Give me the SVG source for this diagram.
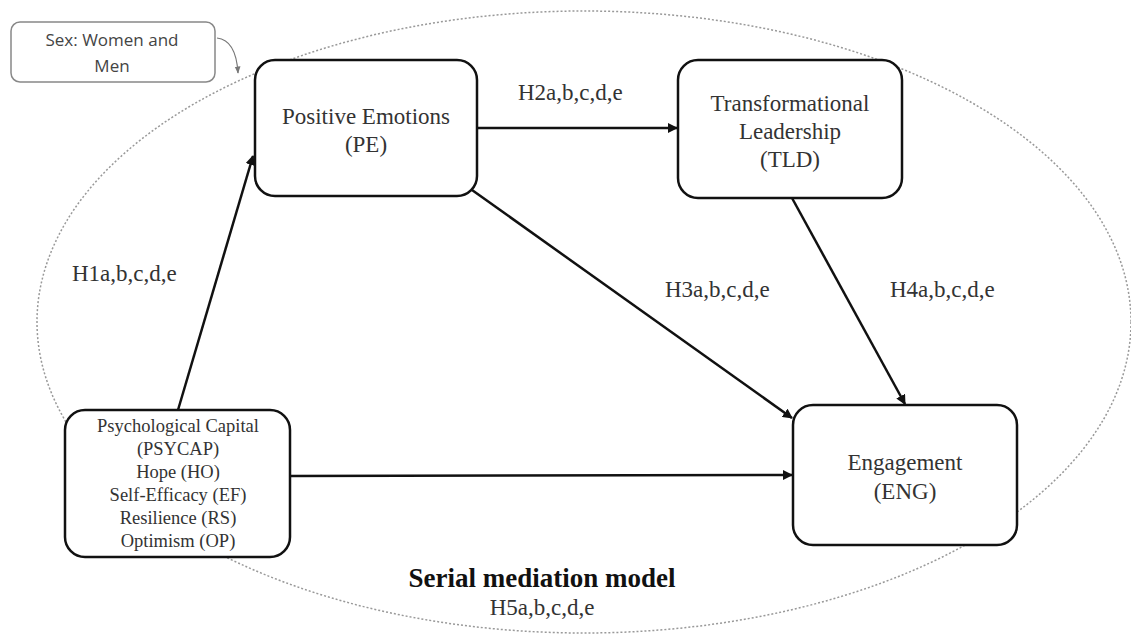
<svg xmlns="http://www.w3.org/2000/svg" width="1131" height="639" viewBox="0 0 1131 639">
<defs>
<style>
.node{fill:#fff;stroke:#111;stroke-width:2.5}
.t{font-family:"Liberation Serif","Times New Roman",serif;fill:#333;text-anchor:middle}
.lbl{font-family:"Liberation Serif","Times New Roman",serif;fill:#333;font-size:23px}
.edge{stroke:#111;stroke-width:2.5;fill:none;marker-end:url(#ah)}
</style>
<marker id="ah" viewBox="0 0 10 10" refX="9" refY="5" markerWidth="4" markerHeight="4" orient="auto" markerUnits="strokeWidth">
<path d="M0,0 L10,5 L0,10 z" fill="#111"/>
</marker>
<marker id="ahs" viewBox="0 0 10 10" refX="9" refY="5" markerWidth="6" markerHeight="6" orient="auto" markerUnits="strokeWidth">
<path d="M0,1 L10,5 L0,9 z" fill="#777"/>
</marker>
</defs>
<rect width="1131" height="639" fill="#fff"/>
<ellipse id="boundary" cx="584" cy="322" rx="547" ry="311" fill="none" stroke="#999" stroke-width="1.5" stroke-dasharray="2 2"/>

<g id="sex">
<rect x="11" y="22" width="204" height="60" rx="9" fill="#fff" stroke="#888" stroke-width="1.5"/>
<text x="112" y="46" font-family="'Open Sans',sans-serif" font-size="17" fill="#444" text-anchor="middle">Sex: Women and</text>
<text x="112" y="72" font-family="'Open Sans',sans-serif" font-size="17" fill="#444" text-anchor="middle">Men</text>
</g>

<g id="connectors">
<path d="M217,38 Q236,40 238,73" fill="none" stroke="#777" stroke-width="1.2" marker-end="url(#ahs)"/>
<line class="edge" x1="178" y1="410" x2="253" y2="156"/>
<line class="edge" x1="477" y1="128" x2="677" y2="128"/>
<line class="edge" x1="472" y1="190" x2="792" y2="418"/>
<line class="edge" x1="792" y1="198" x2="905" y2="404"/>
<line class="edge" x1="290" y1="476" x2="792" y2="475"/>
</g>

<g id="pe">
<rect class="node" x="255" y="60" width="222" height="136" rx="20"/>
<text class="t" x="366" y="124" font-size="23">Positive Emotions</text>
<text class="t" x="366" y="152" font-size="23">(PE)</text>
</g>

<g id="tld">
<rect class="node" x="678" y="60" width="224" height="138" rx="20"/>
<text class="t" x="790" y="111" font-size="23">Transformational</text>
<text class="t" x="790" y="139" font-size="23">Leadership</text>
<text class="t" x="790" y="167" font-size="23">(TLD)</text>
</g>

<g id="psycap">
<rect class="node" x="65" y="410" width="225" height="147" rx="20"/>
<text class="t" x="178" y="432" font-size="18.5">Psychological  Capital</text>
<text class="t" x="178" y="455" font-size="18.5">(PSYCAP)</text>
<text class="t" x="178" y="478" font-size="18.5">Hope (HO)</text>
<text class="t" x="178" y="501" font-size="18.5">Self-Efficacy  (EF)</text>
<text class="t" x="178" y="524" font-size="18.5">Resilience  (RS)</text>
<text class="t" x="178" y="547" font-size="18.5">Optimism  (OP)</text>
</g>

<g id="eng">
<rect class="node" x="793" y="405" width="224" height="140" rx="20"/>
<text class="t" x="905" y="470" font-size="23">Engagement</text>
<text class="t" x="905" y="499" font-size="23">(ENG)</text>
</g>

<g id="labels">
<text class="lbl" x="72" y="281">H1a,b,c,d,e</text>
<text class="lbl" x="518" y="100">H2a,b,c,d,e</text>
<text class="lbl" x="665" y="297">H3a,b,c,d,e</text>
<text class="lbl" x="890" y="297">H4a,b,c,d,e</text>
<text x="542" y="587" font-family="'Liberation Serif','Times New Roman',serif" font-size="27" font-weight="bold" fill="#111" text-anchor="middle">Serial mediation model</text>
<text class="t" x="542" y="615" font-size="23">H5a,b,c,d,e</text>
</g>
</svg>
